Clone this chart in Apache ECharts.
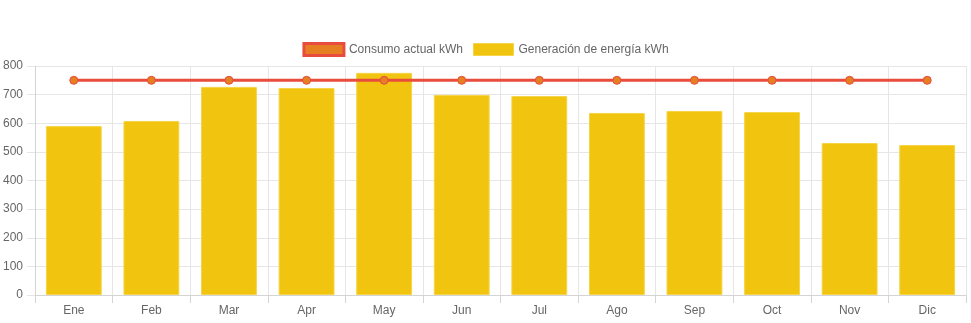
<!DOCTYPE html>
<html><head><meta charset="utf-8">
<script src="https://cdn.jsdelivr.net/npm/echarts@6/dist/echarts.min.js"></script>
<style>html,body{margin:0;padding:0;background:#fff}#c{width:971px;height:323px}</style>
</head><body><div id="c"></div>
<script>
const categories = ['Ene','Feb','Mar','Apr','May','Jun','Jul','Ago','Sep','Oct','Nov','Dic'];
const consumo = [750,750,750,750,750,750,750,750,750,750,750,750];
const generacion = [590,608,727,723,776,699,695,636,643,639,531,524];
const yTicks = {min:0, max:800, interval:100};

const chart = echarts.init(document.getElementById('c'), null, {renderer:'canvas'});
const font = '"Liberation Sans", Arial, Helvetica, sans-serif';
chart.setOption({
  animation:false,
  textStyle:{fontFamily:font},
  legend:{
    top:42, left:'center', itemWidth:40, itemHeight:12, itemGap:10, padding:[0,5],
    textStyle:{color:'#666', fontSize:12, fontFamily:font},
    data:[
      {name:'Consumo actual kWh', icon:'rect', itemStyle:{color:'#e67e22', borderColor:'#e74c3c', borderWidth:3}},
      {name:'Generación de energía kWh', icon:'rect', itemStyle:{color:'#f1c40f', borderColor:'#f5d547', borderWidth:1}}
    ]
  },
  grid:{left:34, right:5, top:66, bottom:28, containLabel:false},
  xAxis:{
    type:'category', data:categories, boundaryGap:true,
    axisLine:{lineStyle:{color:'#d4d4d4'}},
    axisTick:{show:true, length:8, lineStyle:{color:'#d4d4d4'}},
    axisLabel:{color:'#666', fontSize:12, margin:10, fontFamily:font},
    splitLine:{show:true, lineStyle:{color:'#e6e6e6'}}
  },
  yAxis:{
    type:'value', min:yTicks.min, max:yTicks.max, interval:yTicks.interval,
    axisLine:{show:true, lineStyle:{color:'#d4d4d4'}},
    axisTick:{show:true, length:8, lineStyle:{color:'#e6e6e6'}},
    axisLabel:{color:'#666', fontSize:12, margin:12, fontFamily:font},
    splitLine:{show:true, lineStyle:{color:'#e6e6e6'}}
  },
  series:[
    {name:'Consumo actual kWh', type:'line', data:consumo, z:5,
     symbol:'circle', symbolSize:8,
     lineStyle:{color:'#e74c3c', width:3},
     itemStyle:{color:'#e67e22', borderColor:'#e74c3c', borderWidth:1}},
    {name:'Generación de energía kWh', type:'bar', data:generacion, barWidth:'72%',
     itemStyle:{color:'#f1c40f', borderColor:'#f5d547', borderWidth:1}}
  ]
});
</script></body></html>
